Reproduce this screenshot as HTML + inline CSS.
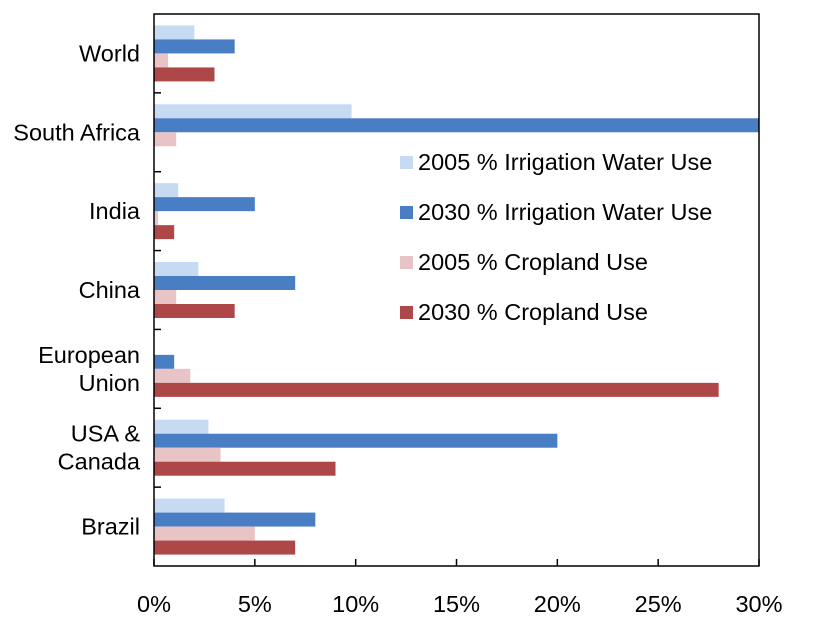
<!DOCTYPE html>
<html><head><meta charset="utf-8">
<style>
body{margin:0;background:#fff;}
svg{display:block;font-family:"Liberation Sans",Arial,sans-serif;}
</style></head>
<body>
<svg id="chart" width="824" height="622" viewBox="0 0 824 622">
<g id="bars"></g>
<g id="axes"></g>
<g id="legend"></g>
</svg>
<script>
const categories = ["World","South Africa","India","China","European Union","USA & Canada","Brazil"];
const irr2005 = [2, 9.8, 1.2, 2.2, 0, 2.7, 3.5];
const irr2030 = [4, 30, 5, 7, 1, 20, 8];
const crop2005 = [0.7, 1.1, 0.2, 1.1, 1.8, 3.3, 5];
const crop2030 = [3, 0, 1, 4, 28, 9, 7];
const seriesNames = ["2005 % Irrigation Water Use","2030 % Irrigation Water Use","2005 % Cropland Use","2030 % Cropland Use"];
const xTicks = [0,5,10,15,20,25,30];

const NS="http://www.w3.org/2000/svg";
const L=154,R=759,T=14,B=566;
const FS=23.5;
const colors=["#c6dbf2","#4a7ec4","#e9c4c6","#ae4747"];
const series=[irr2005,irr2030,crop2005,crop2030];
const x=v=>L+(v/30)*(R-L);
const gh=(B-T)/categories.length;
const bh=14;
function mk(tag,attrs,parent){const e=document.createElementNS(NS,tag);for(const k in attrs)e.setAttribute(k,attrs[k]);parent.appendChild(e);return e;}
const gb=document.getElementById('bars'),ga=document.getElementById('axes'),gl=document.getElementById('legend');
categories.forEach((c,i)=>{
  const y0=T+i*gh+(gh-4*bh)/2;
  series.forEach((s,j)=>{
    if(s[i]<=0)return;
    const r=mk('rect',{x:L,y:y0+j*bh,width:x(s[i])-L,height:bh,fill:colors[j]},gb);
    
    
  });
  const cy=T+i*gh+gh/2;
  const lines=c==="European Union"?["European","Union"]:c==="USA & Canada"?["USA &","Canada"]:[c];
  lines.forEach((ln,k)=>{
    const t=mk('text',{x:140,y:cy+8+(k-(lines.length-1)/2)*28,'text-anchor':'end','font-size':FS,fill:'#000'},ga);
    t.textContent=ln;
    
    
  });
  if(i>0){mk('line',{x1:L,x2:L+7,y1:T+i*gh,y2:T+i*gh,stroke:'#000','stroke-width':1.5},ga);}
});
const frame=mk('rect',{x:L,y:T,width:R-L,height:B-T,fill:'none',stroke:'#000','stroke-width':1.5},ga);


xTicks.forEach(v=>{
  mk('line',{x1:x(v),x2:x(v),y1:B-7,y2:B,stroke:'#000','stroke-width':1.5},ga);
  const t=mk('text',{x:x(v),y:612,'text-anchor':'middle','font-size':FS,fill:'#000'},ga);
  t.textContent=v+'%';
  
  
});
seriesNames.forEach((n,j)=>{
  const yy=162+j*50;
  const g=mk('g',{},gl);
  
  
  mk('rect',{x:400,y:yy-6,width:13,height:13,fill:colors[j]},g);
  const t=mk('text',{x:418,y:yy+8,'font-size':FS,fill:'#000'},g);
  t.textContent=n;
});
</script>
</body></html>
